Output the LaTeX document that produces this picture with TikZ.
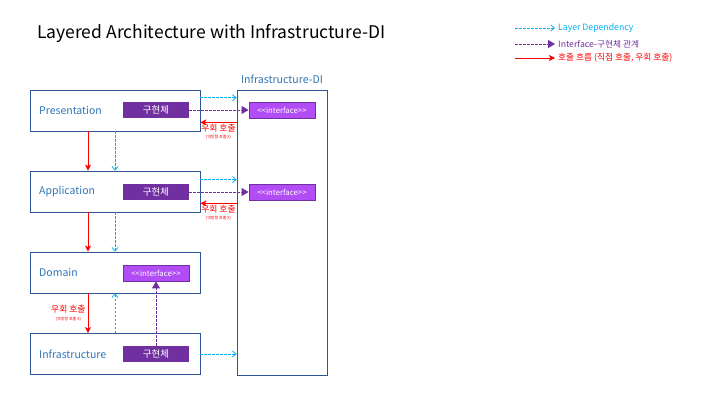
\documentclass[tikz,border=0pt]{standalone}
\usepackage{fontspec}
\setmainfont{Noto Sans CJK KR}
\usetikzlibrary{arrows.meta,calc}

\definecolor{boxline}{RGB}{47,85,151}
\definecolor{layertext}{RGB}{46,117,182}
\definecolor{implfill}{RGB}{112,48,160}
\definecolor{ifacefill}{RGB}{178,76,245}
\definecolor{depblue}{RGB}{0,176,240}
\definecolor{callred}{RGB}{255,0,0}

\tikzset{
  layer/.style={draw=boxline, line width=0.8pt, minimum width=170pt, minimum height=41pt},
  layername/.style={anchor=west, text=layertext, inner sep=0pt, font=\fontsize{10.5}{12}\selectfont},
  impl/.style={fill=implfill, text=white, minimum width=66pt, minimum height=16pt, inner sep=0pt, font=\fontsize{9.5}{10}\selectfont},
  iface/.style={fill=ifacefill, draw=implfill, line width=0.8pt, text=white, minimum width=66pt, minimum height=16pt, inner sep=0pt, font=\fontsize{7.8}{8}\selectfont},
  legendtext/.style={anchor=west, inner sep=3pt, font=\fontsize{8.7}{10}\selectfont},
  dep/.style={depblue, line width=0.8pt, dash pattern=on 2.5pt off 1.5pt, -{Straight Barb[length=3.5pt,width=6pt]}},
  real/.style={implfill, line width=0.9pt, dash pattern=on 2.5pt off 1.5pt, -{Triangle[length=7pt,width=8pt]}},
  call/.style={callred, line width=0.9pt, -{Stealth[length=6pt,width=6pt,inset=1.5pt]}},
  bypass/.style={text=callred, align=center, inner sep=1pt, font=\fontsize{8.8}{8.8}\selectfont},
}
\newcommand{\bypasstext}{우회 호출\\[-1pt]{\fontsize{4}{4}\selectfont (역방향 호출 X)}}

\begin{document}
\begin{tikzpicture}[x=1pt,y=1pt,yscale=-1]
\useasboundingbox (0,0) rectangle (720,405);

% Title
\node[anchor=west, inner sep=0pt, font=\fontsize{17.5}{19}\selectfont] (title) at (37,33) {Layered Architecture with Infrastructure-DI};

% Legend
\coordinate (ldep) at (515,28);
\coordinate (lreal) at (515,44);
\coordinate (lcall) at (515,58);
\node[legendtext, text=depblue] (ldept) at (555,28) {Layer Dependency};
\node[legendtext, text=implfill] (lrealt) at (555,44) {Interface-구현체 관계};
\node[legendtext, text=callred] (lcallt) at (555,58) {호출 흐름 (직접 호출, 우회 호출)};
\draw[dep] (ldep) -- (ldept.west);
\draw[real] (lreal) -- (lrealt.west);
\draw[call] (lcall) -- (lcallt.west);

% Layers
\node[layer] (pres) at (115,110.5) {};
\node[layer] (app) at (115,191.5) {};
\node[layer] (dom) at (115,272.5) {};
\node[layer] (infra) at (115,354) {};
\node[layername] at (39,110.5) {Presentation};
\node[layername] at (39,191.5) {Application};
\node[layername] at (39,272.5) {Domain};
\node[layername] at (39,354) {Infrastructure};

% Implementations and interfaces
\node[impl] (pimpl) at (156,110) {구현체};
\node[impl] (aimpl) at (156,192) {구현체};
\node[iface] (dface) at (156,273) {<{}<interface>{}>};
\node[impl] (iimpl) at (156,354) {구현체};

% Infrastructure-DI
\node[draw=boxline, line width=0.8pt, minimum width=90pt, minimum height=285pt] (di) at (282,232.5) {};
\node[text=layertext, inner sep=0pt, font=\fontsize{10.6}{12}\selectfont] (dilabel) at (282,79) {Infrastructure-DI};
\node[iface] (pface) at (282,110) {<{}<interface>{}>};
\node[iface] (aface) at (282,192) {<{}<interface>{}>};

% Layer dependencies
\coordinate (pdep) at ($(pres.north east)+(0,8)$);
\coordinate (adep) at ($(app.north east)+(0,9)$);
\draw[dep] (pdep) -- (pdep -| di.west);
\draw[dep] (adep) -- (adep -| di.west);
\draw[dep] (infra.east) -- (infra.east -| di.west);
\draw[dep] (pres.south) -- (app.north);
\draw[dep] (app.south) -- (dom.north);
\draw[dep] (infra.north) -- (dom.south);

% Interface - implementation
\draw[real] (pimpl.east) -- (pface.west);
\draw[real] (aimpl.east) -- (aface.west);
\draw[real] (iimpl.north) -- (dface.south);

% Calls
\coordinate (pcall) at ($(pres.south east)+(0,-9)$);
\coordinate (acall) at ($(app.south east)+(0,-9)$);
\draw[call] (pcall -| di.west) -- node[bypass, below] {\bypasstext} (pcall);
\draw[call] (acall -| di.west) -- node[bypass, below] {\bypasstext} (acall);
\coordinate (pdown) at ($(pres.south)+(-27,0)$);
\coordinate (adown) at ($(app.south)+(-27,0)$);
\coordinate (ddown) at ($(dom.south)+(-27,0)$);
\draw[call] (pdown) -- (pdown |- app.north);
\draw[call] (adown) -- (adown |- dom.north);
\draw[call] (ddown) -- node[bypass, left=1pt] {\bypasstext} (ddown |- infra.north);

\end{tikzpicture}
\end{document}
